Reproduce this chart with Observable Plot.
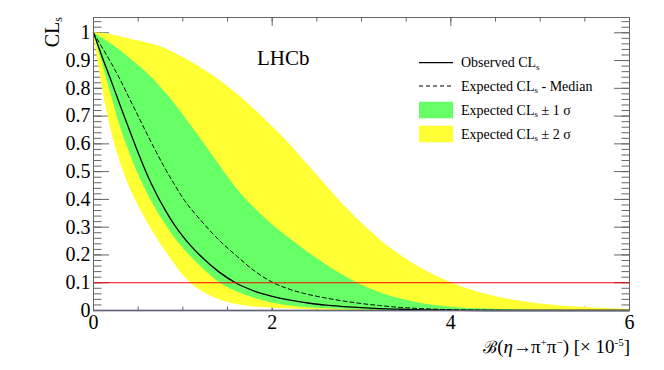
<!DOCTYPE html>
<html>
<head>
<meta charset="utf-8">
<script src="https://cdn.jsdelivr.net/npm/d3@7"></script>
<script src="https://cdn.jsdelivr.net/npm/@observablehq/plot@0.6"></script>
<style>
  html, body { margin: 0; padding: 0; background: white; }
  svg { display: block; }
</style>
</head>
<body>
<div id="chart"></div>
<script>
// x grid: branching fraction B(eta -> pi+ pi-) [x 10^-5]
const xs        = [0, 0.1, 0.2, 0.3, 0.4, 0.5, 0.6, 0.7, 0.8, 0.9, 1.0, 1.2, 1.4, 1.6, 1.8, 2.0, 2.2, 2.4, 2.6, 2.8, 3.0, 3.2, 3.4, 3.6, 3.8, 4.0, 4.4, 4.8, 5.2, 5.6, 6.0];
// Observed CLs
const observed  = [1, 0.91, 0.825, 0.737, 0.652, 0.568, 0.49, 0.422, 0.363, 0.311, 0.267, 0.196, 0.14, 0.098, 0.07, 0.051, 0.037, 0.027, 0.019, 0.014, 0.01, 0.007, 0.005, 0.003, 0.002, 0.001, 0, 0, 0, 0, 0];
// Expected CLs median
const median    = [1, 0.945, 0.89, 0.83, 0.765, 0.70, 0.635, 0.572, 0.512, 0.457, 0.405, 0.325, 0.255, 0.197, 0.143, 0.102, 0.076, 0.058, 0.045, 0.034, 0.025, 0.018, 0.012, 0.008, 0.005, 0.003, 0.001, 0, 0, 0, 0];
// Expected +-1 sigma band
const sig1Lo    = [1, 0.89, 0.774, 0.662, 0.572, 0.492, 0.424, 0.365, 0.313, 0.266, 0.226, 0.158, 0.103, 0.068, 0.044, 0.027, 0.016, 0.01, 0.006, 0.004, 0.002, 0.001, 0, 0, 0, 0, 0, 0, 0, 0, 0];
const sig1Hi    = [1, 0.98, 0.96, 0.936, 0.91, 0.883, 0.855, 0.823, 0.787, 0.748, 0.706, 0.618, 0.528, 0.44, 0.37, 0.31, 0.258, 0.21, 0.166, 0.126, 0.092, 0.065, 0.045, 0.03, 0.019, 0.012, 0.005, 0.002, 0.001, 0, 0];
// Expected +-2 sigma band
const sig2Lo    = [1, 0.80, 0.645, 0.535, 0.447, 0.378, 0.32, 0.266, 0.217, 0.171, 0.128, 0.072, 0.04, 0.022, 0.013, 0.008, 0.005, 0.003, 0.002, 0.001, 0, 0, 0, 0, 0, 0, 0, 0, 0, 0, 0];
const sig2Hi    = [1, 0.998, 0.993, 0.986, 0.978, 0.971, 0.963, 0.955, 0.943, 0.928, 0.912, 0.874, 0.832, 0.782, 0.725, 0.663, 0.598, 0.525, 0.452, 0.38, 0.315, 0.257, 0.207, 0.165, 0.13, 0.10, 0.058, 0.032, 0.017, 0.009, 0.004];

const limitLevel = [0.1];
const baseline = [0];

const xMajor = [0, 2, 4, 6];
const xMinor = d3.range(0, 6.001, 0.5);
const yMajor = d3.range(0, 11).map(i => i / 10);
const yMinor = d3.range(0, 53).map(i => i / 50);

const legendLabels = [
  ["Observed CL", "s", ""],
  ["Expected CL", "s", " - Median"],
  ["Expected CL", "s", " \u00b1 1 \u03c3"],
  ["Expected CL", "s", " \u00b1 2 \u03c3"]
];

const GREEN = "#66ff66";
const YELLOW = "#ffff33";
const TICK = "#666";

const table = xs.map((x, i) => ({
  x, obs: observed[i], med: median[i],
  s1lo: sig1Lo[i], s1hi: sig1Hi[i], s2lo: sig2Lo[i], s2hi: sig2Hi[i]
}));

const noText = {tickFormat: () => "", label: null, stroke: TICK, strokeWidth: 1};

const plot = Plot.plot({
  width: 664,
  height: 370,
  marginLeft: 93,
  marginRight: 35,
  marginTop: 17,
  marginBottom: 60,
  x: {domain: [0, 6]},
  y: {domain: [0, 1.055]},
  style: {fontFamily: "'Liberation Serif', 'Times New Roman', serif", background: "white", color: "black"},
  marks: [
    // inward ticks on all four sides
    Plot.axisY(yMinor, {anchor: "right", frameAnchor: "left", tickSize: 7.5, ...noText}),
    Plot.axisY(yMajor, {anchor: "right", frameAnchor: "left", tickSize: 15, ...noText}),
    Plot.axisY(yMinor, {anchor: "left", frameAnchor: "right", tickSize: 7.5, ...noText}),
    Plot.axisY(yMajor, {anchor: "left", frameAnchor: "right", tickSize: 15, ...noText}),
    Plot.axisX(xMinor, {anchor: "top", frameAnchor: "bottom", tickSize: 4.5, ...noText}),
    Plot.axisX(xMajor, {anchor: "top", frameAnchor: "bottom", tickSize: 9, ...noText}),
    Plot.axisX(xMinor, {anchor: "bottom", frameAnchor: "top", tickSize: 4.5, ...noText}),
    Plot.axisX(xMajor, {anchor: "bottom", frameAnchor: "top", tickSize: 9, ...noText}),
    // tick labels
    Plot.axisY(yMajor, {anchor: "left", tickSize: 0, tickPadding: 3, fontSize: 20, label: null,
      tickFormat: d => (d === 0 || d === 1) ? String(d) : d.toFixed(1)}),
    Plot.axisX(xMajor, {anchor: "bottom", tickSize: 0, tickPadding: 4, fontSize: 20, label: null,
      tickFormat: d => String(d)}),
    // bands
    Plot.areaY(table, {x: "x", y1: "s2lo", y2: "s2hi", fill: YELLOW, curve: "monotone-x"}),
    Plot.areaY(table, {x: "x", y1: "s1lo", y2: "s1hi", fill: GREEN, curve: "monotone-x"}),
    // lines
    Plot.lineY(table, {x: "x", y: "med", stroke: "black", strokeWidth: 1, strokeDasharray: "4,3", curve: "monotone-x"}),
    Plot.lineY(table, {x: "x", y: "obs", stroke: "black", strokeWidth: 1.3, curve: "monotone-x"}),
    Plot.ruleY(limitLevel, {stroke: "#ff0000", strokeWidth: 1.2}),
    Plot.ruleY(baseline, {stroke: "#1c1c6e", strokeWidth: 1.6}),
    Plot.frame({stroke: TICK, strokeWidth: 1})
  ]
});

document.getElementById("chart").appendChild(plot);

// Annotations: axis titles, LHCb label and legend
const svg = d3.select(plot);
const g = svg.append("g")
  .attr("font-family", "'Liberation Serif', 'Times New Roman', serif")
  .attr("fill", "black")
  .attr("text-anchor", "start");

// y title: CL_s (rotated)
const yt = g.append("text")
  .attr("transform", "translate(59,17) rotate(-90)")
  .attr("text-anchor", "end")
  .attr("font-size", 20);
yt.append("tspan").text("CL");
yt.append("tspan").attr("font-size", 12).attr("dy", 3).text("s");

// x title
const xt = g.append("text")
  .attr("x", 630).attr("y", 353)
  .attr("text-anchor", "end")
  .attr("font-size", 19);
xt.append("tspan").attr("font-family", "'DejaVu Serif', serif").attr("font-size", 17).text("\u212c");
xt.append("tspan").text("(");
xt.append("tspan").attr("font-style", "italic").text("\u03b7");
xt.append("tspan").attr("letter-spacing", -1).text("\u2192");
xt.append("tspan").text("\u03c0");
xt.append("tspan").attr("font-size", 11).attr("dy", -7).text("+");
xt.append("tspan").attr("dy", 7).text("\u03c0");
xt.append("tspan").attr("font-size", 11).attr("dy", -7).text("\u2212");
xt.append("tspan").attr("dy", 7).text(") [\u00d7 10");
xt.append("tspan").attr("font-size", 11).attr("dy", -7).text("-5");
xt.append("tspan").attr("dy", 7).text("]");

// LHCb
g.append("text").attr("x", 257).attr("y", 65).attr("font-size", 21).text("LHCb");

// legend
const lx0 = 419, lx1 = 453, tx = 461;
const rowY = [62.7, 86, 110, 134];
g.append("line").attr("x1", lx0).attr("x2", lx1).attr("y1", rowY[0]).attr("y2", rowY[0])
  .attr("stroke", "black").attr("stroke-width", 1.2);
g.append("line").attr("x1", lx0).attr("x2", lx1).attr("y1", rowY[1]).attr("y2", rowY[1])
  .attr("stroke", "black").attr("stroke-width", 1).attr("stroke-dasharray", "4,3");
g.append("rect").attr("x", lx0).attr("y", rowY[2] - 8.3).attr("width", lx1 - lx0).attr("height", 16.6).attr("fill", GREEN);
g.append("rect").attr("x", lx0).attr("y", rowY[3] - 8.3).attr("width", lx1 - lx0).attr("height", 16.6).attr("fill", YELLOW);
legendLabels.forEach((parts, i) => {
  const t = g.append("text").attr("x", tx).attr("y", rowY[i] + 4.5).attr("font-size", 14);
  t.append("tspan").text(parts[0]);
  t.append("tspan").attr("font-size", 9).attr("dy", 2.5).text(parts[1]);
  if (parts[2]) t.append("tspan").attr("dy", -2.5).text(parts[2]);
});
</script>
</body>
</html>
